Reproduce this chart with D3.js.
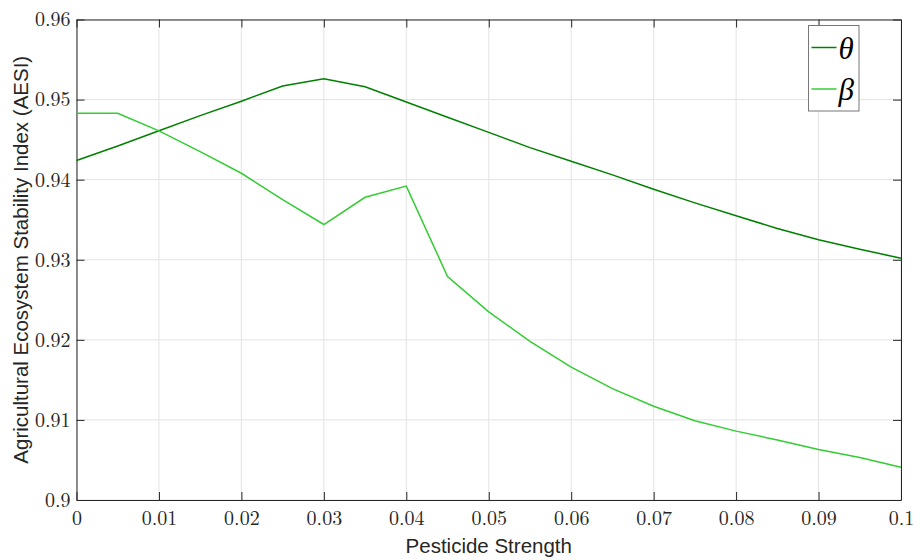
<!DOCTYPE html>
<html>
<head>
<meta charset="utf-8">
<script src="https://cdn.jsdelivr.net/npm/d3@7"></script>
<style>
  body { margin: 0; background: #fff; }
  svg text.tk { font-family: "Latin Modern Roman", "Liberation Serif", serif !important; font-size: 20px !important; }
</style>
</head>
<body>
<svg id="chart" width="914" height="560"></svg>
<script>
// pesticide strength values
const strength = [0, 0.005, 0.01, 0.015, 0.02, 0.025, 0.03, 0.035, 0.04, 0.045, 0.05,
                  0.055, 0.06, 0.065, 0.07, 0.075, 0.08, 0.085, 0.09, 0.095, 0.1];
const theta = [0.9424, 0.9442, 0.9461, 0.9480, 0.9498, 0.9517, 0.9526, 0.9516, 0.9497, 0.9478, 0.9459,
               0.9440, 0.9423, 0.9406, 0.9388, 0.9371, 0.9355, 0.9339, 0.9325, 0.9313, 0.9302];
const beta = [0.9483, 0.9483, 0.9461, 0.9435, 0.9408, 0.9375, 0.9344, 0.9378, 0.9392, 0.9279, 0.9235,
              0.9198, 0.9166, 0.9139, 0.9117, 0.9099, 0.9086, 0.9075, 0.9063, 0.9053, 0.9041];
const xTicks = [0, 0.01, 0.02, 0.03, 0.04, 0.05, 0.06, 0.07, 0.08, 0.09, 0.1];
const yTicks = [0.9, 0.91, 0.92, 0.93, 0.94, 0.95, 0.96];
const seriesNames = ["θ", "β"];
const seriesColors = ["#008000", "#33cc33"];

const svg = d3.select("#chart");
const pLeft = 76.5, pRight = 901, pTop = 19.5, pBottom = 500;

let x = d3.scaleLinear().domain([0, 0.1]).range([pLeft, pRight]);
let y = d3.scaleLinear().domain([0.9, 0.96]).range([pBottom, pTop]);

// grid
svg.append("g")
  .selectAll("line")
  .data(xTicks)
  .enter()
  .append("line")
  .attr("x1", d => x(d)).attr("x2", d => x(d))
  .attr("y1", pTop).attr("y2", pBottom)
  .attr("stroke", "#e3e3e3").attr("stroke-width", 1);
svg.append("g")
  .selectAll("line")
  .data(yTicks)
  .enter()
  .append("line")
  .attr("x1", pLeft).attr("x2", pRight)
  .attr("y1", d => y(d)).attr("y2", d => y(d))
  .attr("stroke", "#e3e3e3").attr("stroke-width", 1);

// axes (ticks pointing inward)
const fmt = d => String(+d.toFixed(3));
const serif = "Latin Modern Roman, Liberation Serif, serif";
svg.append("g")
  .attr("transform", "translate(0," + pBottom + ")")
  .call(d3.axisBottom(x).tickValues(xTicks).tickFormat(fmt).tickSizeInner(-8).tickSizeOuter(0).tickPadding(11))
  .attr("font-family", serif).attr("font-size", 20);
svg.append("g")
  .attr("transform", "translate(" + pLeft + ",0)")
  .call(d3.axisLeft(y).tickValues(yTicks).tickFormat(fmt).tickSizeInner(-8).tickSizeOuter(0).tickPadding(6))
  .attr("font-family", serif).attr("font-size", 20);
svg.append("g")
  .attr("transform", "translate(0," + pTop + ")")
  .call(d3.axisTop(x).tickValues(xTicks).tickFormat("").tickSizeInner(-8).tickSizeOuter(0));
svg.append("g")
  .attr("transform", "translate(" + pRight + ",0)")
  .call(d3.axisRight(y).tickValues(yTicks).tickFormat("").tickSizeInner(-8).tickSizeOuter(0));
svg.selectAll(".domain, .tick line").attr("stroke", "#262626");
svg.selectAll(".tick text")
  .classed("tk", true)
  .attr("fill", "#262626");

// lines
const line = d3.line().x((d, i) => x(strength[i])).y(d => y(d));
[theta, beta].forEach(function(s, k){
  svg.append("path")
    .datum(s)
    .attr("fill", "none")
    .attr("stroke", seriesColors[k])
    .attr("stroke-width", 1.5)
    .attr("d", line);
});

// axis labels
svg.append("text")
  .attr("x", (pLeft + pRight) / 2).attr("y", 552.5)
  .attr("text-anchor", "middle")
  .attr("font-family", "Liberation Sans, Arial, sans-serif")
  .attr("font-size", 20.5)
  .attr("fill", "#262626")
  .text("Pesticide Strength");
svg.append("text")
  .attr("transform", "translate(28," + (pTop + pBottom) / 2 + ") rotate(-90)")
  .attr("text-anchor", "middle")
  .attr("font-family", "Liberation Sans, Arial, sans-serif")
  .attr("font-size", 20.5)
  .attr("fill", "#262626")
  .text("Agricultural Ecosystem Stability Index (AESI)");

// legend
const lg = svg.append("g").attr("transform", "translate(808.5,25.5)");
lg.append("rect")
  .attr("width", 50.5).attr("height", 85.5)
  .attr("fill", "#fff").attr("stroke", "#777").attr("stroke-width", 1);
seriesNames.forEach(function(n, i){
  lg.append("line")
    .attr("x1", 3).attr("x2", 28)
    .attr("y1", 22 + i * 41.5).attr("y2", 22 + i * 41.5)
    .attr("stroke", seriesColors[i]).attr("stroke-width", 1.5);
  lg.append("text")
    .attr("x", 30).attr("y", 33 + i * 41.5)
    .attr("font-family", serif)
    .attr("font-style", "italic")
    .attr("font-size", 31)
    .attr("fill", "#000")
    .text(n);
});
</script>
</body>
</html>
